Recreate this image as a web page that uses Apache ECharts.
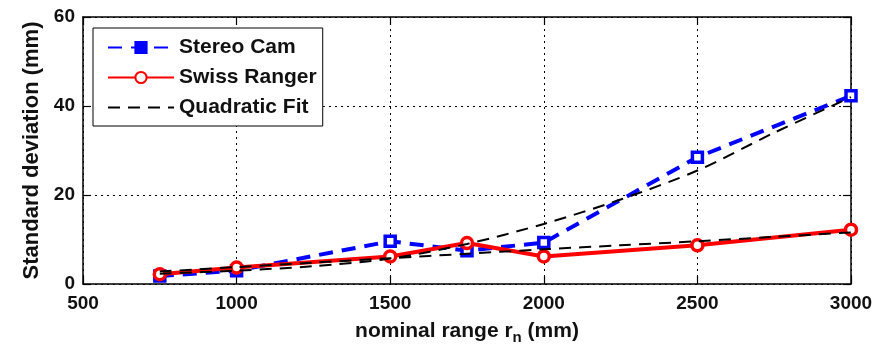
<!DOCTYPE html>
<html>
<head>
<meta charset="utf-8">
<script src="https://cdn.jsdelivr.net/npm/echarts@6/dist/echarts.min.js"></script>
<style>
  html, body { margin: 0; padding: 0; background: #fff; }
  #chart { width: 888px; height: 350px; }
</style>
</head>
<body>
<div id="chart"></div>
<script>
// Measured noise vs nominal range
const rangeMm     = [750, 1000, 1500, 1750, 2000, 2500, 3000];
const stereoCam   = [1.8, 3.0, 9.6, 7.5, 9.3, 28.5, 42.3];
const swissRanger = [2.2, 3.7, 6.2, 9.2, 6.2, 8.7, 12.2];

// Quadratic fit curves, sampled along the range
const fitRange  = [750, 1000, 1250, 1500, 1750, 2000, 2250, 2500, 2750, 3000];
const stereoFit = [2.3, 3.0, 4.0, 5.7, 9.0, 13.5, 19.0, 25.5, 34.0, 42.0];
const swissFit  = [2.8, 3.8, 4.8, 5.8, 6.8, 7.8, 8.7, 9.6, 10.6, 11.6];

// Axis ranges
const xRange = { min: 500, max: 3000, step: 500 };
const yRange = { min: 0, max: 60, step: 20 };

const FONT = 'Liberation Sans, Arial, sans-serif';
const INK = '#111';

const pairs = (xs, ys) => xs.map((x, i) => [x, ys[i]]);

const gridDots = { show: true, lineStyle: { color: '#000', width: 1, type: [2, 4] } };
const frameLine = { show: true, onZero: false, lineStyle: { color: '#000', width: 1.5 } };
const innerTick = { show: true, inside: true, length: 8, lineStyle: { color: '#000', width: 1.2 } };

const chart = echarts.init(document.getElementById('chart'), null, { renderer: 'canvas' });

chart.setOption({
  animation: false,
  backgroundColor: '#fff',
  grid: { left: 83, right: 37, top: 17, bottom: 63, containLabel: false },
  legend: {
    orient: 'vertical',
    left: 93,
    top: 28,
    padding: [9, 6, 8, 14],
    itemWidth: 66,
    itemHeight: 14,
    itemGap: 9,
    backgroundColor: '#fff',
    borderColor: '#000',
    borderWidth: 1,
    borderRadius: 0,
    textStyle: { fontFamily: FONT, fontSize: 21, fontWeight: 'bold', color: INK, lineHeight: 20 },
    data: [
      { name: 'Stereo Cam', itemStyle: { color: '#0000ff', borderColor: '#0000ff' } },
      'Swiss Ranger',
      { name: 'Quadratic Fit', itemStyle: { color: 'transparent', borderWidth: 0, opacity: 0 } }
    ]
  },
  xAxis: [
    {
      type: 'value',
      min: xRange.min, max: xRange.max, interval: xRange.step,
      name: 'nominal range r{sub|n} (mm)',
      nameLocation: 'middle',
      nameGap: 34,
      nameTextStyle: {
        fontFamily: FONT, fontSize: 21, fontWeight: 'bold', color: INK,
        rich: { sub: { fontFamily: FONT, fontSize: 15, fontWeight: 'bold', color: INK, verticalAlign: 'bottom', padding: [12, 0, 0, 0] } }
      },
      axisLine: frameLine,
      axisTick: innerTick,
      axisLabel: { fontFamily: FONT, fontSize: 19, fontWeight: 'bold', color: INK, margin: 10, formatter: v => String(v) },
      splitLine: gridDots
    },
    {
      type: 'value', position: 'top',
      min: xRange.min, max: xRange.max, interval: xRange.step,
      axisLine: frameLine, axisTick: innerTick,
      axisLabel: { show: false }, splitLine: { show: false }
    }
  ],
  yAxis: [
    {
      type: 'value',
      min: yRange.min, max: yRange.max, interval: yRange.step,
      name: 'Standard deviation (mm)',
      nameLocation: 'middle',
      nameGap: 38,
      nameTextStyle: { fontFamily: FONT, fontSize: 22, fontWeight: 'bold', color: INK },
      axisLine: frameLine,
      axisTick: innerTick,
      axisLabel: { fontFamily: FONT, fontSize: 19, fontWeight: 'bold', color: INK, margin: 8, formatter: v => String(v) },
      splitLine: gridDots
    },
    {
      type: 'value', position: 'right',
      min: yRange.min, max: yRange.max, interval: yRange.step,
      axisLine: frameLine, axisTick: innerTick,
      axisLabel: { show: false }, splitLine: { show: false }
    }
  ],
  series: [
    {
      name: 'Stereo Cam',
      type: 'line',
      data: pairs(rangeMm, stereoCam),
      color: '#0000ff',
      symbol: 'rect',
      symbolSize: 10,
      showSymbol: true,
      itemStyle: { color: '#fff', borderColor: '#0000ff', borderWidth: 3.5 },
      lineStyle: { color: '#0000ff', width: 4, type: [14, 9] },
      z: 2
    },
    {
      name: 'Swiss Ranger',
      type: 'line',
      data: pairs(rangeMm, swissRanger),
      color: '#ff0000',
      symbol: 'circle',
      symbolSize: 11,
      showSymbol: true,
      itemStyle: { color: '#fff', borderColor: '#ff0000', borderWidth: 3.5 },
      lineStyle: { color: '#ff0000', width: 4, type: 'solid' },
      z: 3
    },
    {
      name: 'Quadratic Fit',
      type: 'line',
      data: pairs(fitRange, stereoFit),
      color: '#000',
      symbol: 'none',
      smooth: 0.3,
      lineStyle: { color: '#000', width: 2, type: [12, 8] },
      z: 4
    },
    {
      name: 'Quadratic Fit',
      type: 'line',
      data: pairs(fitRange, swissFit),
      color: '#000',
      symbol: 'none',
      smooth: 0.3,
      lineStyle: { color: '#000', width: 2, type: [12, 8] },
      z: 4
    }
  ]
});
</script>
</body>
</html>
